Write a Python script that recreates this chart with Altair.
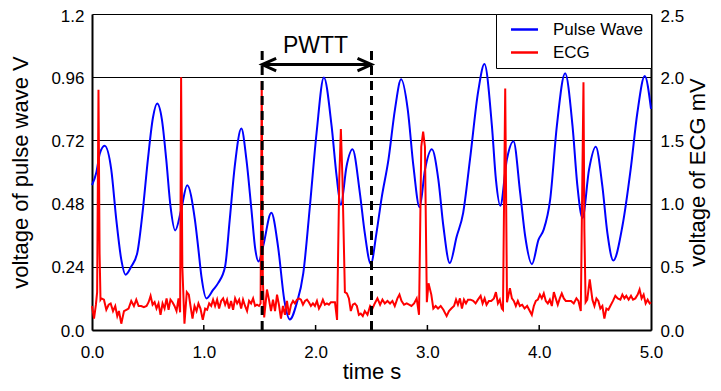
import altair as alt
import pandas as pd

FONT = "Liberation Sans"

# ---------------- data ----------------
SERIES = ["Pulse Wave", "ECG"]
COLORS = ["#0000ff", "#ff0000"]

X_TICKS = [0, 1, 2, 3, 4, 5]
X_INNER_TICKS = [1, 2, 3, 4]
LEFT_TICKS = [0, 0.24, 0.48, 0.72, 0.96, 1.2]
RIGHT_TICKS = [0, 0.5, 1.0, 1.5, 2.0, 2.5]

PULSE_T = [0.00, 0.04, 0.07, 0.113, 0.172, 0.217, 0.262, 0.30, 0.351, 0.405,
           0.455, 0.50, 0.545, 0.583, 0.625, 0.664, 0.702, 0.744, 0.798, 0.851,
           0.92, 0.949, 0.979, 1.024, 1.083, 1.128, 1.19, 1.232, 1.277, 1.336,
           1.381, 1.426, 1.461, 1.49, 1.53, 1.604, 1.664, 1.72, 1.77, 1.83,
           1.89, 1.949, 2.009, 2.074, 2.143, 2.188, 2.226, 2.277, 2.33, 2.396,
           2.44, 2.494, 2.545, 2.59, 2.652, 2.71, 2.765, 2.824, 2.875, 2.93,
           2.979, 3.04, 3.098, 3.143, 3.20, 3.262, 3.32, 3.381, 3.455, 3.51,
           3.577, 3.613, 3.652, 3.711, 3.77, 3.83, 3.875, 3.935, 3.994, 4.04,
           4.098, 4.158, 4.232, 4.298, 4.342, 4.387, 4.446, 4.506, 4.565, 4.61,
           4.663, 4.744, 4.818, 4.878, 4.944, 5.0]
PULSE_V = [0.55, 0.60, 0.67, 0.70, 0.61, 0.42, 0.267, 0.21, 0.241, 0.293,
           0.457, 0.648, 0.806, 0.86, 0.80, 0.648, 0.47, 0.378, 0.457, 0.55,
           0.42, 0.317, 0.203, 0.12, 0.152, 0.178, 0.24, 0.419, 0.622, 0.765,
           0.648, 0.457, 0.305, 0.26, 0.317, 0.445, 0.317, 0.114, 0.04, 0.10,
           0.216, 0.47, 0.75, 0.959, 0.775, 0.584, 0.476, 0.622, 0.686, 0.52,
           0.368, 0.251, 0.37, 0.50, 0.648, 0.838, 0.952, 0.838, 0.622, 0.466,
           0.61, 0.686, 0.571, 0.394, 0.254, 0.355, 0.445, 0.648, 0.908, 1.01,
           0.775, 0.571, 0.472, 0.648, 0.717, 0.52, 0.355, 0.25, 0.343, 0.381,
           0.495, 0.775, 0.975, 0.775, 0.546, 0.425, 0.61, 0.696, 0.546, 0.368,
           0.264, 0.394, 0.61, 0.825, 0.965, 0.84]

# ECG (time s, voltage mV)
ECG_POINTS = [
    (0.000, 0.19), (0.018, 0.09), (0.035, 0.20), (0.046, 0.30), (0.058, 1.90),
    (0.068, 0.60), (0.076, 0.24), (0.083, 0.25), (0.107, 0.24), (0.128, 0.16),
    (0.149, 0.20), (0.167, 0.21), (0.188, 0.15), (0.208, 0.19), (0.226, 0.11),
    (0.241, 0.15), (0.262, 0.05), (0.286, 0.15), (0.307, 0.16), (0.327, 0.17),
    (0.351, 0.23), (0.375, 0.19), (0.396, 0.24), (0.417, 0.19), (0.440, 0.19),
    (0.464, 0.18), (0.488, 0.19), (0.506, 0.22), (0.524, 0.27), (0.542, 0.20),
    (0.560, 0.22), (0.577, 0.17), (0.595, 0.21), (0.613, 0.12), (0.631, 0.21),
    (0.649, 0.17), (0.667, 0.25), (0.685, 0.16), (0.702, 0.24), (0.720, 0.22),
    (0.738, 0.19), (0.756, 0.15), (0.774, 0.25), (0.788, 0.14), (0.797, 2.00),
    (0.808, 0.50), (0.827, 0.05), (0.848, 0.30), (0.866, 0.28), (0.881, 0.19),
    (0.899, 0.09), (0.917, 0.19), (0.935, 0.15), (0.952, 0.21), (0.970, 0.17),
    (0.991, 0.08), (1.012, 0.17), (1.030, 0.16), (1.048, 0.21), (1.066, 0.19),
    (1.083, 0.24), (1.101, 0.19), (1.119, 0.24), (1.137, 0.17), (1.155, 0.23),
    (1.173, 0.25), (1.191, 0.20), (1.208, 0.24), (1.226, 0.17), (1.244, 0.23),
    (1.262, 0.16), (1.280, 0.25), (1.298, 0.21), (1.316, 0.24), (1.334, 0.17),
    (1.351, 0.24), (1.369, 0.19), (1.387, 0.15), (1.405, 0.23), (1.423, 0.21),
    (1.441, 0.25), (1.459, 0.19), (1.476, 0.20), (1.494, 0.19), (1.508, 0.21),
    (1.518, 1.97), (1.528, 0.40), (1.540, 0.10), (1.565, 0.32), (1.583, 0.24),
    (1.601, 0.15), (1.619, 0.24), (1.637, 0.15), (1.655, 0.28), (1.672, 0.20),
    (1.690, 0.09), (1.708, 0.19), (1.726, 0.12), (1.744, 0.23), (1.762, 0.12),
    (1.780, 0.20), (1.798, 0.23), (1.815, 0.21), (1.833, 0.24), (1.851, 0.25),
    (1.869, 0.24), (1.887, 0.20), (1.905, 0.23), (1.923, 0.24), (1.940, 0.22),
    (1.958, 0.19), (1.976, 0.21), (1.994, 0.19), (2.012, 0.23), (2.030, 0.17),
    (2.048, 0.20), (2.065, 0.24), (2.083, 0.20), (2.101, 0.21), (2.119, 0.20),
    (2.137, 0.22), (2.155, 0.22), (2.173, 0.22), (2.192, 0.08), (2.212, 1.20),
    (2.226, 1.59), (2.240, 1.20), (2.262, 0.30), (2.280, 0.29), (2.298, 0.25),
    (2.315, 0.15), (2.333, 0.20), (2.351, 0.21), (2.369, 0.19), (2.387, 0.12),
    (2.404, 0.13), (2.422, 0.11), (2.440, 0.15), (2.464, 0.12), (2.488, 0.19),
    (2.509, 0.17), (2.529, 0.21), (2.553, 0.25), (2.577, 0.20), (2.598, 0.24),
    (2.619, 0.21), (2.643, 0.23), (2.666, 0.21), (2.687, 0.23), (2.708, 0.19),
    (2.732, 0.25), (2.750, 0.28), (2.768, 0.23), (2.791, 0.20), (2.815, 0.21),
    (2.836, 0.20), (2.857, 0.19), (2.881, 0.21), (2.904, 0.25), (2.925, 0.12),
    (2.945, 1.45), (2.962, 1.57), (2.978, 1.45), (2.995, 0.22), (3.010, 0.37),
    (3.035, 0.28), (3.053, 0.17), (3.074, 0.19), (3.095, 0.17), (3.119, 0.19),
    (3.143, 0.16), (3.172, 0.11), (3.193, 0.15), (3.214, 0.17), (3.238, 0.19),
    (3.256, 0.24), (3.273, 0.20), (3.291, 0.25), (3.309, 0.17), (3.327, 0.24),
    (3.345, 0.21), (3.363, 0.24), (3.386, 0.24), (3.410, 0.23), (3.431, 0.21),
    (3.452, 0.24), (3.476, 0.27), (3.494, 0.21), (3.512, 0.25), (3.529, 0.20),
    (3.550, 0.23), (3.571, 0.23), (3.595, 0.25), (3.613, 0.30), (3.631, 0.21),
    (3.648, 0.24), (3.666, 0.17), (3.676, 0.16), (3.696, 1.91), (3.712, 0.22),
    (3.738, 0.33), (3.756, 0.25), (3.773, 0.23), (3.791, 0.19), (3.809, 0.23),
    (3.827, 0.19), (3.848, 0.20), (3.869, 0.17), (3.892, 0.19), (3.916, 0.15),
    (3.934, 0.12), (3.952, 0.19), (3.970, 0.23), (3.988, 0.24), (4.006, 0.28),
    (4.023, 0.25), (4.041, 0.29), (4.059, 0.23), (4.077, 0.21), (4.095, 0.24),
    (4.113, 0.19), (4.131, 0.30), (4.148, 0.25), (4.166, 0.20), (4.184, 0.25),
    (4.202, 0.29), (4.220, 0.25), (4.238, 0.23), (4.262, 0.23), (4.285, 0.23),
    (4.309, 0.21), (4.333, 0.25), (4.351, 0.23), (4.372, 0.15), (4.396, 1.96),
    (4.404, 0.80), (4.415, 0.22), (4.430, 0.24), (4.452, 0.40), (4.476, 0.24),
    (4.494, 0.19), (4.512, 0.25), (4.529, 0.23), (4.547, 0.17), (4.565, 0.19),
    (4.583, 0.09), (4.601, 0.17), (4.619, 0.16), (4.636, 0.19), (4.660, 0.23),
    (4.681, 0.27), (4.702, 0.25), (4.726, 0.24), (4.744, 0.28), (4.762, 0.25),
    (4.779, 0.27), (4.800, 0.24), (4.821, 0.27), (4.839, 0.24), (4.860, 0.25),
    (4.881, 0.28), (4.898, 0.32), (4.916, 0.25), (4.934, 0.28), (4.952, 0.21),
    (4.970, 0.24), (4.988, 0.21), (5.000, 0.22),
]

# PWTT annotation (time in s, heights in mV on the ECG scale)
PWTT_LABEL = "PWTT"
PWTT_START = 1.522
PWTT_END = 2.50
PWTT_LINE_TOP = 2.21
PWTT_ARROW_Y = 2.10
PWTT_LABEL_T = 2.0
PWTT_LABEL_Y = 2.19

# ---------------- frames ----------------
pulse_df = pd.DataFrame({"t": PULSE_T, "v": PULSE_V, "series": SERIES[0]})
ecg_df = pd.DataFrame({"t": [p[0] for p in ECG_POINTS],
                       "v": [p[1] for p in ECG_POINTS],
                       "series": SERIES[1]})
rules_df = pd.DataFrame({"t": [PWTT_START, PWTT_END],
                         "v": [0.0, 0.0],
                         "v2": [PWTT_LINE_TOP, PWTT_LINE_TOP]})
arrow_df = pd.DataFrame({"t": [PWTT_START], "t2": [PWTT_END], "v": [PWTT_ARROW_Y]})
head_l_df = pd.DataFrame({"t": [PWTT_START], "v": [PWTT_ARROW_Y]})
head_r_df = pd.DataFrame({"t": [PWTT_END], "v": [PWTT_ARROW_Y]})
label_df = pd.DataFrame({"t": [PWTT_LABEL_T], "v": [PWTT_LABEL_Y], "txt": [PWTT_LABEL]})
xtick_df = pd.DataFrame({"t": X_INNER_TICKS})

# ---------------- encodings ----------------
x_scale = alt.Scale(domain=[0, 5], nice=False, zero=False)
left_scale = alt.Scale(domain=[0, 1.2], nice=False)
right_scale = alt.Scale(domain=[0, 2.5], nice=False)

x_enc = alt.X("t:Q", scale=x_scale,
              axis=alt.Axis(values=X_TICKS, format=".1f", title="time s",
                            grid=False, ticks=False, domainColor="black",
                            domainWidth=2, labelFontSize=17, labelColor="black",
                            labelFont=FONT, titleFont=FONT, titleFontSize=22,
                            titleFontWeight="normal", titleColor="black",
                            labelPadding=14, titlePadding=1, labelFlush=False))

right_axis = alt.Axis(orient="right", values=RIGHT_TICKS, format=".1f",
                      title="voltage of ECG mV", grid=False, ticks=False,
                      domainColor="black", domainWidth=2, labelFontSize=17,
                      labelColor="black", labelFont=FONT, titleFont=FONT,
                      titleFontSize=22, titleFontWeight="normal",
                      titleColor="black", labelPadding=9, titlePadding=4,
                      titleAngle=270, titleBaseline="top",
                      labelOffset={"condition": {"test": "datum.value > 2.4", "value": 2.5},
                                   "value": 1})

color = alt.Color("series:N",
                  scale=alt.Scale(domain=SERIES, range=COLORS),
                  legend=alt.Legend(title=None, orient="top-right", offset=0,
                                    fillColor="white", strokeColor="black",
                                    padding=7, symbolType="M -2 0 L 2 0",
                                    symbolStrokeWidth=2.5, symbolSize=182,
                                    symbolOffset=13, labelOffset=20,
                                    labelFontSize=17, labelFont=FONT,
                                    labelColor="black", rowPadding=5))

pulse_line = alt.Chart(pulse_df).mark_line(strokeWidth=2, interpolate="monotone").encode(
    x=x_enc,
    y=alt.Y("v:Q", scale=left_scale,
            axis=alt.Axis(orient="left", values=LEFT_TICKS,
                          labelExpr="datum.value == 0 ? '0.0' : format(datum.value, '.2~f')",
                          title="voltage of pulse wave V", grid=True,
                          gridColor="black", gridWidth=1, gridOpacity=1,
                          ticks=False, domainColor="black", domainWidth=2,
                          labelFontSize=17, labelColor="black", labelFont=FONT,
                          titleFont=FONT, titleFontSize=22, titleFontWeight="normal",
                          titleColor="black", labelPadding=8, titlePadding=18,
                          labelOffset={"condition": {"test": "datum.value > 1.1", "value": 2.5},
                                       "value": 1})),
    color=color,
)

y_right = alt.Y("v:Q", scale=right_scale, axis=right_axis)

ecg_line = alt.Chart(ecg_df).mark_line(strokeWidth=2).encode(
    x="t:Q", y=y_right, color=color)

dashed = alt.Chart(rules_df).mark_rule(color="black", strokeWidth=3, strokeDash=[9, 6]).encode(
    x="t:Q", y=y_right, y2="v2:Q")

arrow = alt.Chart(arrow_df).mark_rule(color="black", strokeWidth=3).encode(
    x="t:Q", x2="t2:Q", y=y_right)

head_l = alt.Chart(head_l_df).mark_point(
    shape="M 1 -0.45 L 0 0 L 1 0.45", size=784, filled=False,
    color="black", strokeWidth=3, opacity=1).encode(x="t:Q", y=y_right)

head_r = alt.Chart(head_r_df).mark_point(
    shape="M -1 -0.45 L 0 0 L -1 0.45", size=784, filled=False,
    color="black", strokeWidth=3, opacity=1).encode(x="t:Q", y=y_right)

label = alt.Chart(label_df).mark_text(
    fontSize=23, font=FONT, color="black", align="center", baseline="alphabetic").encode(
    x="t:Q", y=y_right, text="txt:N")

xticks = alt.Chart(xtick_df).mark_rule(color="black", strokeWidth=1.5).encode(
    x="t:Q", y=alt.value(316), y2=alt.value(311))

right_layer = alt.layer(ecg_line, dashed, arrow, head_l, head_r, label, xticks)

chart = alt.layer(pulse_line, right_layer).resolve_scale(y="independent").properties(
    width=559, height=316, autosize="none",
    padding={"left": 84, "top": 6, "right": 62, "bottom": 53},
).configure_view(stroke="black", strokeWidth=2).configure_legend(
    strokeWidth=1, cornerRadius=0).configure(background="white")

chart.save("out.html", embed_options={"renderer": "svg", "actions": False})
